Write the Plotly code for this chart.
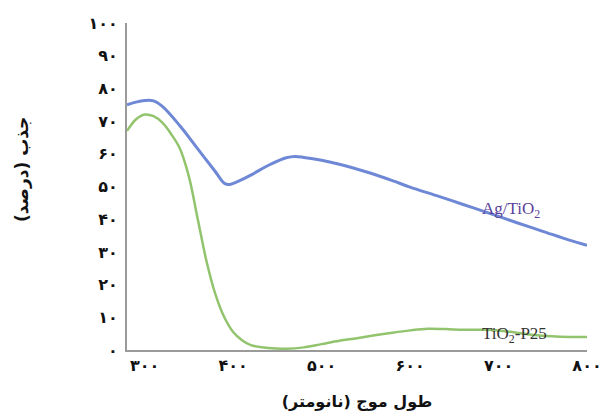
import plotly.graph_objects as go

# wavelength (nm) and absorption (%)
wl_ag = [280, 290, 300, 310, 320, 340, 360, 380, 390, 395, 405, 420, 440, 460, 470,
         480, 500, 520, 550, 580, 600, 630, 660, 690, 720, 750, 780, 800]
abs_ag = [75, 75.8, 76.3, 76.2, 74.5, 68.5, 61.5, 54.5, 51, 50.6, 51.5, 53.5, 56.5, 58.8, 59.2,
          58.9, 58, 56.8, 54.5, 51.8, 49.8, 47.2, 44.5, 41.8, 39, 36.3, 33.6, 32]

wl_p25 = [280, 290, 300, 310, 320, 330, 340, 350, 360, 370, 380, 390, 400, 410, 420, 440,
          460, 480, 500, 520, 540, 560, 580, 600, 620, 640, 660, 680, 700, 720, 740, 760, 780, 800]
abs_p25 = [67, 70.5, 72, 71.5, 69.5, 66, 61.5, 53, 40, 27, 17, 10, 5.5, 3, 1.5, 0.6,
           0.4, 0.8, 1.8, 2.8, 3.6, 4.5, 5.3, 6, 6.5, 6.4, 6.2, 6.2, 6.0, 5.3, 4.6, 4.2, 4.0, 4.0]

x_tickvals = [300, 400, 500, 600, 700, 800]
x_ticktext = ["۳۰۰", "۴۰۰", "۵۰۰", "۶۰۰", "۷۰۰", "۸۰۰"]
y_tickvals = [0, 10, 20, 30, 40, 50, 60, 70, 80, 90, 100]
y_ticktext = ["۰", "۱۰", "۲۰", "۳۰", "۴۰", "۵۰", "۶۰", "۷۰", "۸۰", "۹۰", "۱۰۰"]

W, H = 602, 417
L, R, T, B = 127, 15, 23, 67

fig = go.Figure()
fig.add_trace(go.Scatter(x=wl_ag, y=abs_ag, mode="lines", line=dict(color="#6e88d6", width=3, shape="spline"),
                         showlegend=False))
fig.add_trace(go.Scatter(x=wl_p25, y=abs_p25, mode="lines", line=dict(color="#92c46e", width=2.5, shape="spline"),
                         showlegend=False))

fig.add_annotation(x=714, y=42.8, text="Ag/TiO<sub>2</sub>", showarrow=False,
                   font=dict(family="Liberation Serif", size=17, color="#5b3f9c"))
fig.add_annotation(x=718, y=4.5, text="TiO<sub>2</sub>-P25", showarrow=False,
                   font=dict(family="Liberation Serif", size=17, color="#333333"))

# y-axis title placed as rotated annotation (centered slightly above plot middle, like reference)
pw, ph = W - L - R, H - T - B
fig.add_annotation(xref="paper", yref="paper", x=(22 - L) / pw, y=(H - B - 170) / ph,
                   text="<b>جذب (درصد)</b>", textangle=-90, showarrow=False,
                   xanchor="center", yanchor="middle",
                   font=dict(family="DejaVu Sans", size=17, color="#111111"))

tick_font = dict(family="DejaVu Sans", size=16, color="#111111", weight="bold")
fig.update_layout(
    width=W, height=H,
    margin=dict(l=L, r=R, t=T, b=B),
    paper_bgcolor="white", plot_bgcolor="white",
    font=dict(family="DejaVu Sans", color="#111111"),
    xaxis=dict(range=[280, 800], tickvals=x_tickvals, ticktext=x_ticktext, tickfont=tick_font,
               showgrid=False, zeroline=False, showline=True, linecolor="#9a9a9a", linewidth=2,
               ticks="", ticklabelstandoff=0, automargin=False,
               title=dict(text="<b>طول موج (نانومتر)</b>", font=dict(family="DejaVu Sans", size=16), standoff=22)),
    yaxis=dict(range=[0, 100], tickvals=y_tickvals, ticktext=y_ticktext, tickfont=tick_font,
               showgrid=False, zeroline=False, showline=True, linecolor="#9a9a9a", linewidth=2,
               ticks="", ticklabelstandoff=4, automargin=False),
)

fig.write_html("out.html", config={"displayModeBar": False},
               post_script="document.body.style.margin='0';document.body.style.overflow='hidden';")
